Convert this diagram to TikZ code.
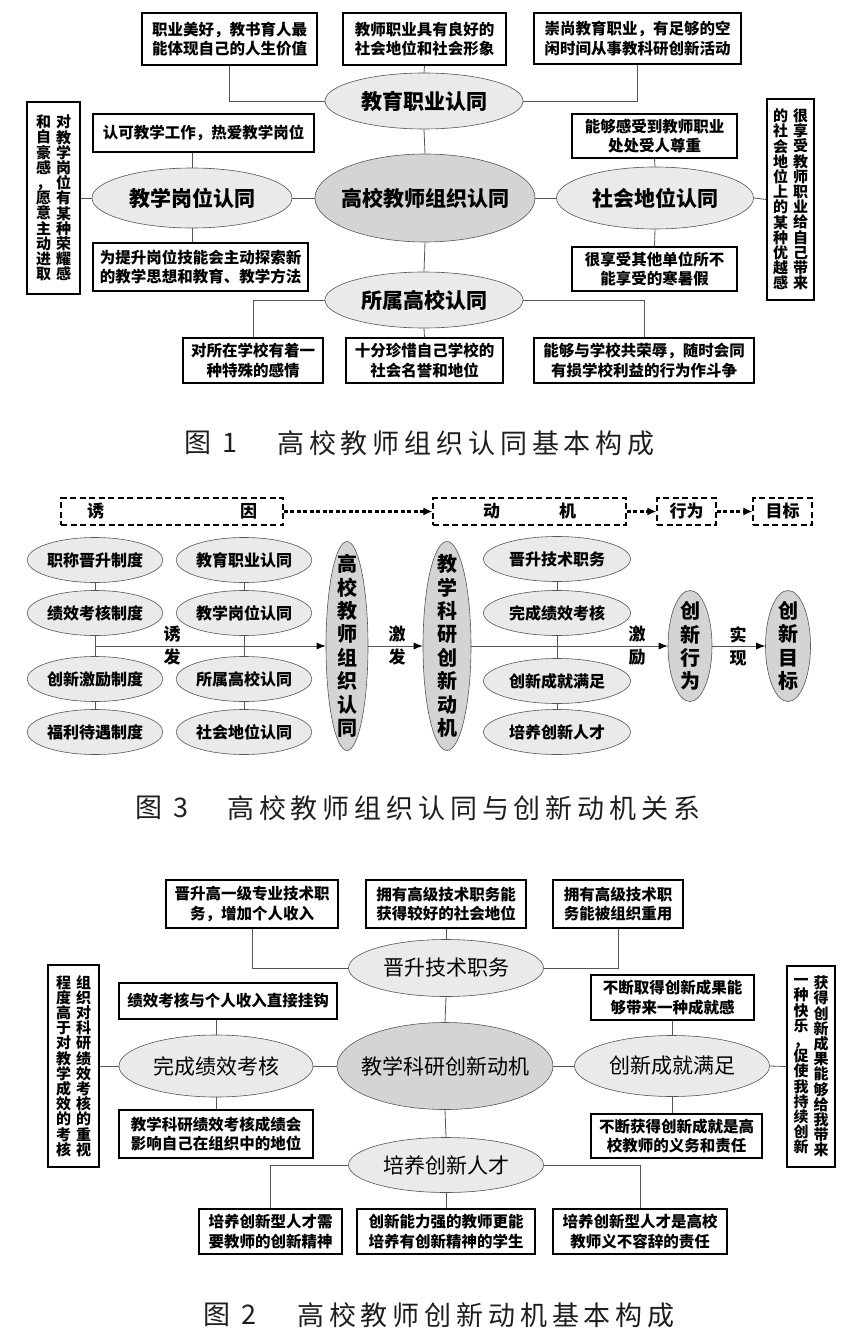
\documentclass[tikz,border=0pt]{standalone}
\usepackage{fontspec}
\setmainfont{Noto Sans CJK SC}
\newfontfamily\titelfont[LetterSpace=18]{Noto Sans CJK SC}
\usepackage{tikz}
\usetikzlibrary{arrows.meta,shapes.geometric}
\definecolor{qianhui}{RGB}{234,234,234}
\definecolor{shenhui}{RGB}{212,212,212}
\definecolor{xianhui}{RGB}{85,85,85}
\definecolor{zihei}{RGB}{30,30,30}

\begin{document}
\begin{tikzpicture}[
        x=1pt, y=-1pt, >=Latex,
        txt/.style={draw=black, line width=1.3pt, inner sep=2pt, align=center, font=\fontsize{15.5}{19.5}\selectfont\bfseries},
        vbox/.style={draw=black, line width=1.3pt, inner sep=0pt},
        vcol/.style={inner sep=0pt, align=center, font=\fontsize{15}{15.2}\selectfont\bfseries},
        ell/.style={ellipse, draw=xianhui, line width=0.6pt, fill=qianhui, inner sep=0pt, font=\fontsize{21}{24}\selectfont\bfseries},
        kern/.style={ell, fill=shenhui, inner xsep=-12pt},
        link/.style={draw=xianhui, line width=0.8pt},
        dbox/.style={draw=black, dash pattern=on 6pt off 3.5pt, line width=1.1pt, inner sep=0pt, minimum height=27, font=\fontsize{17}{20}\selectfont\bfseries},
        dotflow/.style={line width=2.2pt, dash pattern=on 4pt off 2.5pt, -{Latex[length=9pt,width=8pt]}},
        sell/.style={ellipse, draw=xianhui, line width=0.6pt, fill=qianhui, inner sep=0pt, minimum height=45, font=\fontsize{16}{19}\selectfont\bfseries},
        vell/.style={ellipse, draw=xianhui, line width=0.6pt, fill=shenhui, inner xsep=0pt, inner ysep=-25pt, align=center, font=\fontsize{20}{23.4}\selectfont\bfseries},
        flow/.style={draw=xianhui, line width=0.8pt, -{Latex[length=9pt,width=7pt,color=black]}},
        lbl/.style={align=center, inner sep=0pt, font=\fontsize{17}{23}\selectfont\bfseries},
        titel/.style={inner sep=0pt, anchor=west, text=zihei, font=\fontsize{27}{30}\titelfont}
    ]
    \useasboundingbox (0,0) rectangle (846,1332);

    % Bild 1
    \node[txt, minimum width=175, minimum height=52] (b1) at (229.5,39) {职业美好，教书育人最\\能体现自己的人生价值};
    \node[txt, minimum width=163, minimum height=52] (b2) at (424.5,39) {教师职业具有良好的\\社会地位和社会形象};
    \node[txt, minimum width=207, minimum height=51] (b3) at (637.5,38.5) {崇尚教育职业，有足够的空\\闲时间从事教科研创新活动};
    \node[ell, minimum width=198, minimum height=56] (jyzy) at (424,101) {教育职业认同};
    \node[txt, minimum width=221, minimum height=38] (rk) at (203.5,133) {认可教学工作，热爱教学岗位};
    \node[txt, minimum width=215, minimum height=48] (ts) at (200.5,267) {为提升岗位技能会主动探索新\\的教学思想和教育、教学方法};
    \node[txt, minimum width=165, minimum height=44] (ng) at (654.5,136) {能够感受到教师职业\\处处受人尊重};
    \node[txt, minimum width=165, minimum height=44] (hx) at (654.5,269) {很享受其他单位所不\\能享受的寒暑假};
    \node[ell, minimum width=200, minimum height=60] (jxgw) at (192,198) {教学岗位认同};
    \node[kern, minimum width=220, minimum height=88] (zz) at (425,198) {高校教师组织认同};
    \node[ell, minimum width=197, minimum height=62] (shdw) at (655,198) {社会地位认同};
    \node[ell, minimum width=198, minimum height=56] (ssgx) at (424,300) {所属高校认同};
    \node[vbox, minimum width=53, minimum height=192] (lv1) at (53.5,198) {};
    \node[vcol] (lv1r) at ([xshift=10pt]lv1.center) {对\\教\\学\\岗\\位\\有\\某\\种\\荣\\耀\\感};
    \node[vcol] (lv1l) at ([xshift=-10pt]lv1.center) {和\\自\\豪\\感\\，\\愿\\意\\主\\动\\进\\取};
    \node[vbox, minimum width=47, minimum height=201] (rv1) at (790.5,199.5) {};
    \node[vcol] (rv1r) at ([xshift=10pt]rv1.center) {很\\享\\受\\教\\师\\职\\业\\给\\自\\己\\带\\来};
    \node[vcol] (rv1l) at ([xshift=-10pt]rv1.center) {的\\社\\会\\地\\位\\上\\的\\某\\种\\优\\越\\感};
    \node[txt, minimum width=140, minimum height=45] (c1) at (253,360.5) {对所在学校有着一\\种特殊的感情};
    \node[txt, minimum width=157, minimum height=45] (c2) at (424.5,360.5) {十分珍惜自己学校的\\社会名誉和地位};
    \node[txt, minimum width=220, minimum height=45] (c3) at (644,360.5) {能够与学校共荣辱，随时会同\\有损学校利益的行为作斗争};
    \draw[link] (b1.south) |- (jyzy.west);
    \draw[link] (b2.south) -- (jyzy.north);
    \draw[link] (b3.south) |- (jyzy.east);
    \draw[link] (jxgw.north) -- (jxgw.north |- rk.south);
    \draw[link] (jxgw.south) -- (jxgw.south |- ts.north);
    \draw[link] (shdw.north) -- (ng.south);
    \draw[link] (shdw.south) -- (hx.north);
    \draw[link] (zz.north) -- (jyzy.south);
    \draw[link] (zz.west) -- (jxgw.east);
    \draw[link] (zz.east) -- (shdw.west);
    \draw[link] (zz.south) -- (ssgx.north);
    \draw[link] (lv1.east) -- (jxgw.west);
    \draw[link] (shdw.east) -- (rv1.west);
    \draw[link] (ssgx.west) -| (c1.north);
    \draw[link] (ssgx.south) -- (c2.north);
    \draw[link] (ssgx.east) -| (c3.north);
    \node[titel] (cap1a) at (184,443) {图\hspace{11pt}1};
    \node[titel] (cap1b) at (277,443) {高校教师组织认同基本构成};

    % Bild 3
    \node[dbox, minimum width=222] (yinbox) at (172,511.5) {诱\hspace{136pt}因};
    \node[dbox, minimum width=193] (dongbox) at (529.5,511.5) {动\hspace{59pt}机};
    \node[dbox, minimum width=59] (xwbox) at (686.5,511.5) {行为};
    \node[dbox, minimum width=59] (mbbox) at (782.5,511.5) {目标};
    \draw[dotflow] (yinbox) -- (dongbox);
    \draw[dotflow] (dongbox) -- (xwbox);
    \draw[dotflow] (xwbox) -- (mbbox);
    \node[sell, minimum width=131] (zc1) at (95,560) {职称晋升制度};
    \node[sell, minimum width=131] (zc2) at (95,613) {绩效考核制度};
    \node[sell, minimum width=131] (zc3) at (95,679) {创新激励制度};
    \node[sell, minimum width=131] (zc4) at (95,732) {福利待遇制度};
    \node[sell, minimum width=130] (rt1) at (244,560) {教育职业认同};
    \node[sell, minimum width=130] (rt2) at (244,613) {教学岗位认同};
    \node[sell, minimum width=130] (rt3) at (244,679) {所属高校认同};
    \node[sell, minimum width=130] (rt4) at (244,732) {社会地位认同};
    \node[vell, minimum width=42, minimum height=209] (zzrt) at (347,646) {高\\校\\教\\师\\组\\织\\认\\同};
    \node[vell, minimum width=48, minimum height=209] (dongji) at (447,646) {教\\学\\科\\研\\创\\新\\动\\机};
    \node[sell, minimum width=147] (dj1) at (557,559) {晋升技术职务};
    \node[sell, minimum width=147] (dj2) at (557,613) {完成绩效考核};
    \node[sell, minimum width=147] (dj3) at (557,681) {创新成就满足};
    \node[sell, minimum width=147] (dj4) at (557,732) {培养创新人才};
    \node[vell, minimum width=44, minimum height=111] (cxxw) at (690,646) {创\\新\\行\\为};
    \node[vell, minimum width=45, minimum height=111] (cxmb) at (788,646) {创\\新\\目\\标};
    \draw[link] (zc1) -- (zc2);
    \draw[link] (zc2) -- (zc3);
    \draw[link] (zc3) -- (zc4);
    \draw[link] (rt1) -- (rt2);
    \draw[link] (rt2) -- (rt3);
    \draw[link] (rt3) -- (rt4);
    \draw[link] (dj1) -- (dj2);
    \draw[link] (dj2) -- (dj3);
    \draw[link] (dj3) -- (dj4);
    \draw[flow] (zc2.south |- zzrt.west) -- (zzrt.west);
    \draw[flow] (zzrt.east) -- (dongji.west);
    \draw[flow] (dongji.east) -- (cxxw.west);
    \draw[flow] (cxxw.east) -- (cxmb.west);
    \node[lbl] (yf) at (172,646) {诱\\发};
    \node[lbl] (jf) at (397,646) {激\\发};
    \node[lbl] (jl) at (637,646) {激\\励};
    \node[lbl] (sx) at (738,646) {实\\现};
    \node[titel] (cap3a) at (135,808) {图\hspace{11pt}3};
    \node[titel] (cap3b) at (227,808) {高校教师组织认同与创新动机关系};

    % Bild 2
    \node[txt, minimum width=172, minimum height=48] (p1) at (252,904) {晋升高一级专业技术职\\务，增加个人收入};
    \node[txt, minimum width=160, minimum height=48] (p2) at (446,904) {拥有高级技术职务能\\获得较好的社会地位};
    \node[txt, minimum width=130, minimum height=48] (p3) at (618,904) {拥有高级技术职\\务能被组织重用};
    \node[ell, font=\fontsize{21}{24}\selectfont, minimum width=195, minimum height=57] (jsjw) at (446,968) {晋升技术职务};
    \node[txt, minimum width=218, minimum height=36] (q1) at (228,1001) {绩效考核与个人收入直接挂钩};
    \node[ell, font=\fontsize{21}{24}\selectfont, minimum width=194, minimum height=62] (wcjx) at (216,1066) {完成绩效考核};
    \node[txt, minimum width=194, minimum height=48] (q2) at (216,1134) {教学科研绩效考核成绩会\\影响自己在组织中的地位};
    \node[kern, font=\fontsize{21}{24}\selectfont, minimum width=216, minimum height=87] (cxdj) at (445,1066) {教学科研创新动机};
    \node[ell, font=\fontsize{21}{24}\selectfont, minimum width=195, minimum height=61] (cxcj) at (672,1066) {创新成就满足};
    \node[txt, minimum width=163, minimum height=45] (r1) at (672.5,997.5) {不断取得创新成果能\\够带来一种成就感};
    \node[txt, minimum width=171, minimum height=44] (r2) at (676.5,1136) {不断获得创新成就是高\\校教师的义务和责任};
    \node[ell, font=\fontsize{21}{24}\selectfont, minimum width=195, minimum height=55] (pycx) at (446,1165) {培养创新人才};
    \node[vbox, minimum width=51, minimum height=202] (lv2) at (73.5,1066) {};
    \node[vcol] (lv2r) at ([xshift=10pt]lv2.center) {组\\织\\对\\科\\研\\绩\\效\\考\\核\\的\\重\\视};
    \node[vcol] (lv2l) at ([xshift=-10pt]lv2.center) {程\\度\\高\\于\\对\\教\\学\\成\\效\\的\\考\\核};
    \node[vbox, minimum width=48, minimum height=201] (rv2) at (811,1066.5) {};
    \node[vcol] (rv2r) at ([xshift=10pt]rv2.center) {获\\得\\创\\新\\成\\果\\能\\够\\给\\我\\带\\来};
    \node[vcol] (rv2l) at ([xshift=-10pt]rv2.center) {一\\种\\快\\乐\\，\\促\\使\\我\\持\\续\\创\\新};
    \node[txt, minimum width=143, minimum height=45] (s1) at (270.5,1231.5) {培养创新型人才需\\要教师的创新精神};
    \node[txt, minimum width=178, minimum height=45] (s2) at (446,1231.5) {创新能力强的教师更能\\培养有创新精神的学生};
    \node[txt, minimum width=174, minimum height=45] (s3) at (640,1231.5) {培养创新型人才是高校\\教师义不容辞的责任};
    \draw[link] (p1.south) |- (jsjw.west);
    \draw[link] (p2.south) -- (jsjw.north);
    \draw[link] (p3.south) |- (jsjw.east);
    \draw[link] (wcjx.north) -- (wcjx.north |- q1.south);
    \draw[link] (wcjx.south) -- (wcjx.south |- q2.north);
    \draw[link] (cxcj.north) -- (cxcj.north |- r1.south);
    \draw[link] (cxcj.south) -- (cxcj.south |- r2.north);
    \draw[link] (cxdj.north) -- (jsjw.south);
    \draw[link] (cxdj.west) -- (wcjx.east);
    \draw[link] (cxdj.east) -- (cxcj.west);
    \draw[link] (cxdj.south) -- (pycx.north);
    \draw[link] (lv2.east) -- (wcjx.west);
    \draw[link] (cxcj.east) -- (rv2.west);
    \draw[link] (pycx.west) -| (s1.north);
    \draw[link] (pycx.south) -- (s2.north);
    \draw[link] (pycx.east) -| (s3.north);
    \node[titel] (cap2a) at (203,1315) {图\hspace{11pt}2};
    \node[titel] (cap2b) at (297,1315) {高校教师创新动机基本构成};
\end{tikzpicture}
\end{document}
